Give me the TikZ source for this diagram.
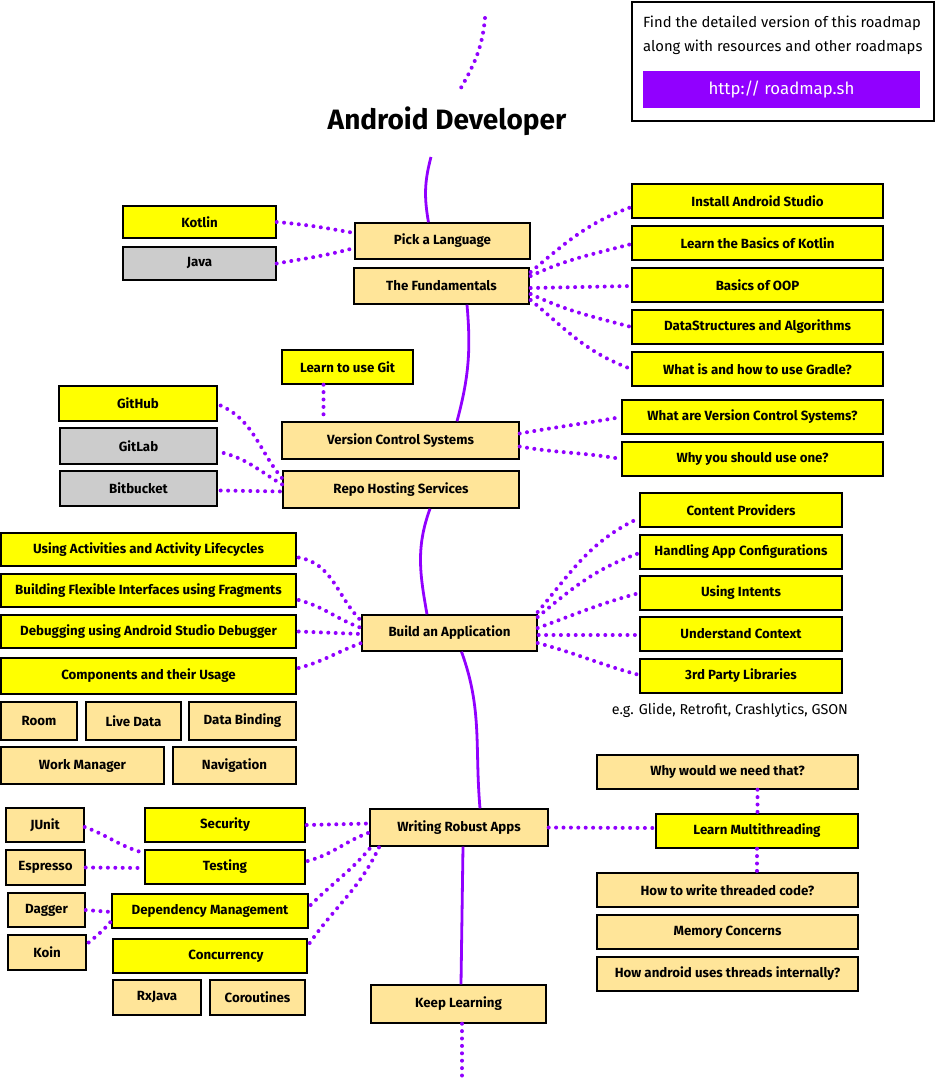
\documentclass[tikz,border=0pt]{standalone}
\usepackage{fontspec}
\setmainfont{Fira Sans}
\usetikzlibrary{calc}
\definecolor{rmpurple}{RGB}{145,0,255}
\definecolor{rmyellow}{RGB}{255,255,0}
\definecolor{rmtan}{RGB}{255,229,153}
\definecolor{rmgray}{RGB}{204,204,204}

\begin{document}
\begin{tikzpicture}[x=1pt,y=1pt]
  \tikzstyle{cell} = [rectangle,draw=black,line width=1.4pt,minimum
  height=34,inner sep=0pt,font=\bfseries\fontsize{13.3}{15}\selectfont]
  \tikzstyle{ycell} = [cell,fill=rmyellow]
  \tikzstyle{tcell} = [cell,fill=rmtan]
  \tikzstyle{gcell} = [cell,fill=rmgray]

  \tikzstyle{spine} = [draw=rmpurple,line width=2.8pt]
  \tikzstyle{dots} = [draw=rmpurple,line width=4pt,line cap=round,dash
  pattern=on 0pt off 7.4pt]

  \useasboundingbox (0,0) rectangle (935,-1080);

  % header
  \node[name=title,font=\bfseries\fontsize{28}{32}\selectfont] at (447,-121) {Android Developer};
  \node[draw=black,line width=1.7pt,minimum width=302,minimum height=119,name=info] at (783,-61.5) {};
  \node[anchor=west,inner sep=0pt,font=\fontsize{14.8}{17}\selectfont,name=info1] at (643,-23) {Find the detailed version of this roadmap};
  \node[anchor=west,inner sep=0pt,font=\fontsize{14.8}{17}\selectfont,name=info2] at (643,-47) {along with resources and other roadmaps};
  \node[fill=rmpurple,text=white,minimum width=277,minimum height=37,inner
  sep=0pt,font=\fontsize{16.8}{19}\selectfont,name=link] at (781.5,-89.5) {http:// roadmap.sh};
  \coordinate (dottop) at (485,-18);
  \coordinate (dotend) at (458,-93);
  \coordinate (spinetop) at (431,-157);

  % language and fundamentals
  \node[ycell,minimum width=153,minimum height=32,name=kotlin] at (199.5,-222) {Kotlin};
  \node[gcell,minimum width=153,minimum height=33,name=java] at (199.5,-263.5) {Java};
  \node[tcell,minimum width=175,minimum height=36,name=pick] at (442.5,-241) {Pick a Language};
  \node[tcell,minimum width=175,minimum height=36,name=fund] at (441.5,-286) {The Fundamentals};
  \node[ycell,minimum width=251,name=install] at (757.5,-201) {Install Android Studio};
  \node[ycell,minimum width=251,name=learnk] at (757.5,-243) {Learn the Basics of Kotlin};
  \node[ycell,minimum width=251,name=oop] at (757.5,-285) {Basics of OOP};
  \node[ycell,minimum width=251,name=dsa] at (757.5,-327) {DataStructures and Algorithms};
  \node[ycell,minimum width=251,name=gradle] at (757.5,-369) {What is and how to use Gradle?};

  % version control
  \node[ycell,minimum width=131,name=git] at (347.5,-367) {Learn to use Git};
  \node[ycell,minimum width=158,minimum height=35,name=github] at (138,-403.5) {GitHub};
  \node[gcell,minimum width=157,minimum height=36,name=gitlab] at (138.5,-446) {GitLab};
  \node[gcell,minimum width=157,minimum height=35,name=bitbucket] at (138.5,-488.5) {Bitbucket};
  \node[tcell,minimum width=237,minimum height=37,name=vcs] at (400.5,-440.5) {Version Control Systems};
  \node[tcell,minimum width=236,minimum height=37,name=repo] at (401,-489.5) {Repo Hosting Services};
  \node[ycell,minimum width=261,name=whatvcs] at (752.5,-417) {What are Version Control Systems?};
  \node[ycell,minimum width=261,name=whyvcs] at (752.5,-459) {Why you should use one?};

  % build an application
  \node[ycell,minimum width=295,minimum height=33,name=activ] at (148.5,-549.5) {Using Activities and Activity Lifecycles};
  \node[ycell,minimum width=295,minimum height=33,name=frag] at (148.5,-590.5) {Building Flexible Interfaces using Fragments};
  \node[ycell,minimum width=295,minimum height=33,name=debug] at (148.5,-631.5) {Debugging using Android Studio Debugger};
  \node[ycell,minimum width=295,minimum height=36,name=comp] at (148.5,-676) {Components and their Usage};
  \node[tcell,minimum width=76,minimum height=38,name=room] at (39,-721) {Room};
  \node[tcell,minimum width=95,minimum height=38,name=livedata] at (133.5,-721) {Live Data};
  \node[tcell,minimum width=107,minimum height=38,name=binding] at (242.5,-721) {Data Binding};
  \node[tcell,minimum width=163,minimum height=37,name=workmgr] at (82.5,-765.5) {Work Manager};
  \node[tcell,minimum width=123,minimum height=37,name=navig] at (234.5,-765.5) {Navigation};
  \node[tcell,minimum width=175,minimum height=36,name=build] at (449.5,-633) {Build an Application};
  \node[ycell,minimum width=202,name=content] at (741,-510) {Content Providers};
  \node[ycell,minimum width=202,name=config] at (741,-552) {Handling App Configurations};
  \node[ycell,minimum width=202,name=intents] at (741,-593) {Using Intents};
  \node[ycell,minimum width=202,name=context] at (741,-634) {Understand Context};
  \node[ycell,minimum width=202,name=thirdp] at (741,-676) {3rd Party Libraries};
  \node[font=\fontsize{14.3}{16}\selectfont,inner sep=0pt,name=libs] at (730,-710) {e.g. Glide, Retrofit, Crashlytics, GSON};

  % writing robust apps
  \node[tcell,minimum width=178,minimum height=37,name=robust] at (459,-827.5) {Writing Robust Apps};
  \node[tcell,minimum width=261,name=whyneed] at (727.5,-772) {Why would we need that?};
  \node[ycell,minimum width=202,name=multi] at (757,-831) {Learn Multithreading};
  \node[tcell,minimum width=261,name=howwrite] at (727.5,-890) {How to write threaded code?};
  \node[tcell,minimum width=261,name=memory] at (727.5,-932) {Memory Concerns};
  \node[tcell,minimum width=261,name=internal] at (727.5,-974) {How android uses threads internally?};
  \node[ycell,minimum width=160,name=security] at (225,-825) {Security};
  \node[ycell,minimum width=160,name=testing] at (225,-867) {Testing};
  \node[ycell,minimum width=196,name=depman] at (210,-911) {Dependency Management};
  \node[ycell,minimum width=194,name=concur] at (210,-956) {\hspace*{32pt}Concurrency};
  \node[tcell,minimum width=78,name=junit] at (45,-825) {JUnit};
  \node[tcell,minimum width=79,minimum height=35,name=espresso] at (45.5,-867.5) {Espresso};
  \node[tcell,minimum width=77,name=dagger] at (46.5,-910) {Dagger};
  \node[tcell,minimum width=78,minimum height=35,name=koin] at (47,-952.5) {Koin};
  \node[tcell,minimum width=88,minimum height=35,name=rxjava] at (157,-997.5) {RxJava};
  \node[tcell,minimum width=95,minimum height=35,name=corout] at (257.5,-997.5) {Coroutines};
  \node[tcell,minimum width=175,minimum height=38,name=keep] at (458.5,-1004) {Keep Learning};
  \coordinate (dotbottom) at (462,-1080);

  % spine
  \path (dottop) edge[dots,out=-95,in=60] (dotend);
  \path (spinetop) edge[spine,out=-105,in=100] ($(pick.north)+(-14,0)$);
  \path ($(fund.south)+(25.5,0)$) edge[spine,out=-85,in=75] ($(vcs.north)+(56.5,0)$);
  \path ($(repo.south)+(29,0)$) edge[spine,out=-110,in=100] ($(build.north)+(-22.5,0)$);
  \path ($(build.south)+(12,0)$) edge[spine,out=-70,in=95] ($(robust.north)+(21,0)$);
  \path ($(robust.south)+(4,0)$) edge[spine] ($(keep.north)+(2.5,0)$);
  \path ($(keep.south)+(3.5,0)$) edge[dots] (dotbottom);

  % language and fundamentals
  \path (kotlin.east) edge[dots,out=-5,in=170] ($(pick.west)+(0,8)$);
  \path (java.east) edge[dots,out=10,in=195] ($(pick.west)+(0,-7)$);
  \path ($(fund.east)+(1,14)$) edge[dots,out=40,in=200] ($(install.west)+(0,-6)$);
  \path ($(fund.east)+(1,10)$) edge[dots,out=25,in=195] ($(learnk.west)+(0,-1)$);
  \path ($(fund.east)+(1,-2)$) edge[dots] ($(oop.west)+(0,-1)$);
  \path ($(fund.east)+(1,-8)$) edge[dots,out=-25,in=165] (dsa.west);
  \path ($(fund.east)+(1,-14)$) edge[dots,out=-40,in=160] (gradle.west);

  % version control
  \coordinate (gitdot) at ($(git.south)+(-24,0)$);
  \path (gitdot) edge[dots] (gitdot |- vcs.north);
  \path ($(vcs.east)+(0,7)$) edge[dots,out=10,in=190] (whatvcs.west);
  \path ($(vcs.east)+(0,-6)$) edge[dots,out=-10,in=170] (whyvcs.west);
  \path ($(github.east)+(3,-2)$) edge[dots,out=-25,in=130] ($(repo.west)+(0,11)$);
  \path ($(gitlab.east)+(6,-7)$) edge[dots,out=-15,in=150] ($(repo.west)+(0,5)$);
  \path ($(bitbucket.east)+(3,-2)$) edge[dots] ($(repo.west)+(0,-2)$);

  % build an application
  \path ($(activ.east)+(2,-8)$) edge[dots,out=-10,in=135] ($(build.west)+(0,12)$);
  \path ($(frag.east)+(2,-9.5)$) edge[dots,out=-15,in=160] ($(build.west)+(0,5)$);
  \path ($(debug.east)+(2,0)$) edge[dots] ($(build.west)+(0,-1)$);
  \path ($(comp.east)+(2,8)$) edge[dots,out=15,in=200] ($(build.west)+(0,-10)$);
  \path ($(build.east)+(0,21)$) edge[dots,out=50,in=205] ($(content.west)+(0,-8)$);
  \path ($(build.east)+(0,16)$) edge[dots,out=40,in=200] ($(config.west)+(0,-1)$);
  \path ($(build.east)+(0,5)$) edge[dots,out=20,in=195] (intents.west);
  \path ($(build.east)+(1,-2)$) edge[dots] ($(context.west)+(0,-1)$);
  \path ($(build.east)+(0,-10)$) edge[dots,out=-15,in=165] ($(thirdp.west)+(0,1)$);

  % writing robust apps
  \path (robust.east) edge[dots] ($(multi.west)+(0,3)$);
  \coordinate (needdot) at ($(whyneed.south)+(30,0)$);
  \path (needdot) edge[dots] (needdot |- multi.north);
  \path (multi.south) edge[dots] (multi.south |- howwrite.north);
  \path ($(security.east)+(1,0)$) edge[dots] ($(robust.west)+(0,4)$);
  \path ($(testing.east)+(2,6)$) edge[dots,out=15,in=200] ($(robust.west)+(0,-5)$);
  \path ($(depman.east)+(2,6)$) edge[dots,out=45,in=230] ($(robust.south west)+(2,0)$);
  \path ($(concur.east)+(2,13)$) edge[dots,out=55,in=245] ($(robust.south west)+(10,0)$);
  \path ($(junit.east)+(0,-2)$) edge[dots,out=-20,in=165] ($(testing.west)+(0,14)$);
  \path (espresso.east) edge[dots] ($(testing.west)+(0,-1)$);
  \path (dagger.east) edge[dots] ($(depman.west)+(0,-1)$);
  \path ($(koin.east)+(2,10)$) edge[dots,out=40,in=230] ($(depman.west)+(0,-10)$);

\end{tikzpicture}
\end{document}
